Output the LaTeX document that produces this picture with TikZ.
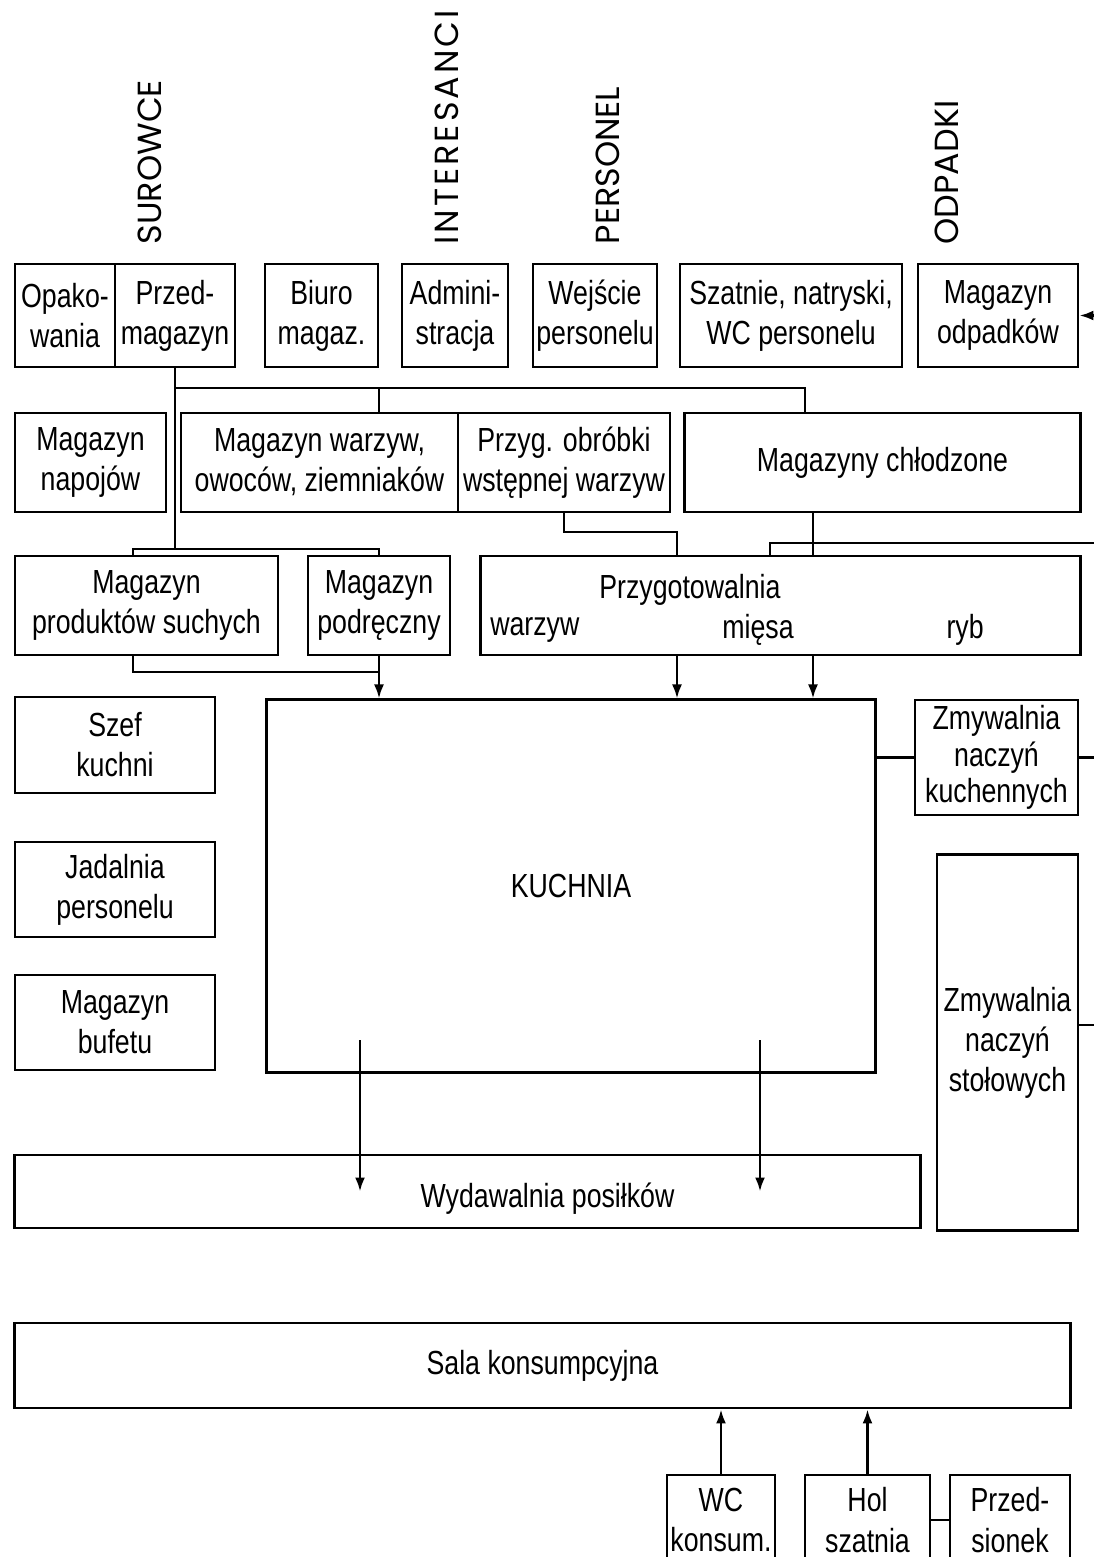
\documentclass[tikz,border=0pt]{standalone}
\usepackage{fontspec}
\setmainfont{Liberation Sans}[FakeStretch=0.8]
\newfontfamily\flowfont{Poppins}
\newfontfamily\flowwide{Poppins}[LetterSpace=9]
\usetikzlibrary{arrows.meta,calc}

\begin{document}
\begin{tikzpicture}[x=0.01cm, y=-0.01cm,
  room/.style={draw, line width=0.8pt, inner sep=0.5pt, align=center, font=\fontsize{9.5}{11.4}\selectfont},
  rowa/.style={room, minimum height=1.03cm},
  rowb/.style={room, minimum height=0.99cm},
  tag/.style={inner sep=0pt, anchor=base, font=\fontsize{9.5}{11.4}\selectfont},
  flow/.style={rotate=90, anchor=west, inner sep=0pt, font=\flowfont\fontsize{9.5}{10}\selectfont},
  link/.style={line width=0.7pt},
  arr/.style={line width=0.7pt, -{Latex[length=1.4mm,width=1mm]}}
]
  \useasboundingbox (0,0) rectangle (1094,1557);

  \node[flow] (surowce) at (150,245) {SUROWCE};
  \node[flow, font=\flowwide\fontsize{9.5}{10}\selectfont] (interesanci) at (447,245) {INTERESANCI};
  \node[flow] (personel) at (608,245) {PERSONEL};
  \node[flow] (odpadki) at (947,245) {ODPADKI};

  \node[rowa, minimum width=1.00cm] (opak) at (65,315.5) {Opako-\\wania};
  \node[rowa, minimum width=1.20cm] (przedmag) at (175,315.5) {Przed-\\magazyn};
  \node[rowa, minimum width=1.13cm] (biuro) at (321.5,315.5) {Biuro\\magaz.};
  \node[rowa, minimum width=1.06cm] (admin) at (455,315.5) {Admini-\\stracja};
  \node[rowa, minimum width=1.24cm] (wejscie) at (595,315.5) {Wejście\\personelu};
  \node[rowa, minimum width=2.22cm] (szatnie) at (791,315.5) {Szatnie, natryski,\\WC personelu};
  \node[rowa, minimum width=1.60cm] (smieci) at (998,315.5) {Magazyn\\odpadków};

  \node[rowb, minimum width=1.51cm] (napoje) at (90.5,462.5) {Magazyn\\napojów};
  \node[rowb, minimum width=2.77cm] (warzywa) at (319.5,462.5) {Magazyn warzyw,\\owoców, ziemniaków};
  \node[rowb, minimum width=2.12cm] (obrobka) at (564,462.5) {Przyg. obróbki\\wstępnej warzyw};
  \node[rowb, minimum width=3.95cm] (chlodnie) at (882.5,462.5) {Magazyny chłodzone};

  \node[rowb, minimum width=2.63cm] (suche) at (146.5,605.5) {Magazyn\\produktów suchych};
  \node[rowb, minimum width=1.42cm] (podreczny) at (379,605.5) {Magazyn\\podręczny};
  \node[rowb, minimum width=5.99cm,
    label={[tag, xshift=-0.905cm, yshift=0.16cm]center:Przygotowalnia},
    label={[tag, xshift=-2.455cm, yshift=-0.24cm]center:warzyw},
    label={[tag, xshift=-0.225cm, yshift=-0.24cm]center:mięsa},
    label={[tag, xshift=1.845cm, yshift=-0.24cm]center:ryb}] (przygot) at (780.5,605.5) {};

  \node[room, minimum width=2.00cm, minimum height=0.96cm] (szef) at (115,745) {Szef\\kuchni};
  \node[room, minimum width=2.00cm, minimum height=0.95cm] (jadalnia) at (115,889.5) {Jadalnia\\personelu};
  \node[room, minimum width=2.00cm, minimum height=0.95cm] (bufet) at (115,1022.5) {Magazyn\\bufetu};

  \node[room, minimum width=6.08cm, minimum height=3.72cm] (kuchnia) at (571,886) {KUCHNIA};
  \node[room, minimum width=1.63cm, minimum height=1.15cm, font=\fontsize{9.5}{10.4}\selectfont] (zmywk) at (996.5,757.5) {Zmywalnia\\naczyń\\kuchennych};
  \node[room, minimum width=1.41cm, minimum height=3.75cm] (zmyws) at (1007.5,1042.5) {Zmywalnia\\naczyń\\stołowych};

  \node[room, minimum width=9.05cm, minimum height=0.73cm,
    label={[tag, xshift=0.8cm, yshift=-0.07cm]center:Wydawalnia posiłków}] (wydaw) at (467.5,1191.5) {};
  \node[room, minimum width=10.55cm, minimum height=0.85cm] (sala) at (542.5,1365.5) {Sala konsumpcyjna};

  \node[room, minimum width=1.08cm, minimum height=0.90cm] (wc) at (721,1520) {WC\\konsum.};
  \node[room, minimum width=1.25cm, minimum height=0.90cm] (hol) at (867.5,1520) {Hol\\szatnia};
  \node[room, minimum width=1.20cm, minimum height=0.90cm] (przed) at (1010,1520) {Przed-\\sionek};

  \coordinate (feed) at (805,388);
  \coordinate (dry) at (133,549);
  \coordinate (drydown) at (133,672);
  \coordinate (veg) at (677,532);
  \coordinate (fish) at (770,543);
  \coordinate (meat) at (813,543);
  \coordinate (edge) at (1094,543);
  \coordinate (drain) at (1094,1025);
  \coordinate (pass1) at (360,1040);
  \coordinate (pass2) at (760,1040);

  \draw[link] (przedmag.south) |- (feed) -- (feed |- chlodnie.north);
  \draw[link] (feed -| podreczny.north) -- (podreczny.north |- warzywa.north);
  \draw[link] (przedmag.south) -- (przedmag.south |- dry);
  \draw[link] (dry |- suche.north) -- (dry) -| (podreczny.north);
  \draw[link] (obrobka.south) |- (veg) -- (veg |- przygot.north);
  \draw[link] (chlodnie.south -| meat) -- (przygot.north -| meat);
  \draw[link] (edge) -| (przygot.north -| fish);
  \draw[arr] (edge |- smieci.east) -- (smieci.east);

  \draw[link] (dry |- suche.south) |- (podreczny.south |- drydown);
  \draw[arr] (podreczny.south) -- (podreczny.south |- kuchnia.north);
  \draw[arr] (przygot.south -| veg) -- (kuchnia.north -| veg);
  \draw[arr] (przygot.south -| meat) -- (kuchnia.north -| meat);

  \draw[link] (kuchnia.east |- zmywk.west) -- (zmywk.west);
  \draw[link] (zmywk.east) -- (edge |- zmywk.east);
  \draw[link] (zmyws.east |- drain) -- (drain);

  \draw[arr] (pass1) -- (pass1 |- wydaw.center);
  \draw[arr] (pass2) -- (pass2 |- wydaw.center);

  \draw[arr] (wc.north) -- (wc.north |- sala.south);
  \draw[arr] (hol.north) -- (hol.north |- sala.south);
  \draw[link] (hol.east) -- (przed.west);
\end{tikzpicture}
\end{document}
